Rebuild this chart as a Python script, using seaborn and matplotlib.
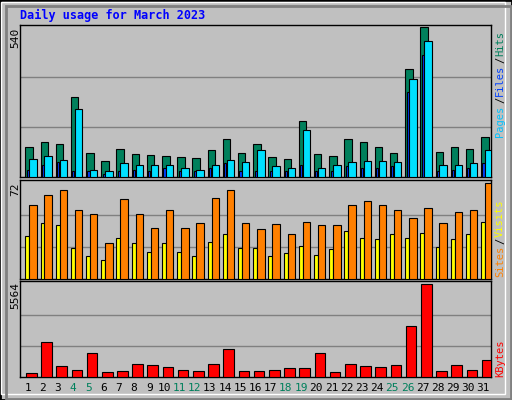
import numpy as np
import pandas as pd
import matplotlib
matplotlib.use('Agg')
import matplotlib.pyplot as plt
import seaborn as sns
from matplotlib.patches import Rectangle

# datos diarios
dias = list(range(1, 32))
fines_semana = [4, 5, 11, 12, 18, 19, 25, 26]
hits = [107, 126, 119, 287, 86, 56, 100, 82, 78, 75, 71, 67, 97, 137, 86, 119,
        71, 64, 203, 82, 75, 137, 126, 108, 86, 390, 540, 89, 108, 100, 144]
files = [64, 75, 60, 247, 27, 23, 49, 45, 42, 42, 31, 27, 42, 60, 53, 97,
         38, 31, 170, 31, 42, 53, 56, 56, 53, 353, 492, 42, 45, 49, 97]
pages = [27, 42, 53, 23, 20, 12, 23, 27, 23, 34, 20, 23, 34, 49, 23, 23,
         20, 20, 42, 20, 20, 38, 31, 34, 38, 306, 441, 20, 27, 31, 49]
visits = [55.6, 62.6, 66.5, 52, 48.5, 27, 60, 49, 38, 52, 38, 42, 61, 66.5, 42, 37.6,
          41.5, 33.7, 43, 40.7, 40.7, 55.6, 58.7, 55.6, 51.7, 45.4, 53, 42, 50, 52, 72]
sites = [32, 42, 40.7, 23.5, 17, 14, 31, 26.6, 20, 26.6, 20, 17, 28, 33.7, 23.5, 23.5,
         17, 19.6, 25, 18, 22.7, 36, 30.5, 29.7, 33.7, 30.5, 34.4, 24.3, 29.7, 33.7, 43]
kbytes = [264, 2092, 630, 447, 1422, 325, 386, 751, 690, 569, 447, 386, 751, 1665, 386, 386,
          447, 508, 508, 1422, 325, 751, 630, 569, 690, 3067, 5564, 386, 690, 447, 995]

df = pd.DataFrame({'dia': dias, 'hits': hits, 'files': files, 'pages': pages,
                   'visits': visits, 'sites': sites, 'kbytes': kbytes})
df['x'] = df['dia'] - 1

sns.set_style('white')
plt.rcParams['font.family'] = ['DejaVu Sans Mono']

W, H = 512, 400
fig = plt.figure(figsize=(W / 100, H / 100), dpi=100)
fig.patch.set_facecolor('#c0c0c0')

# bisel del marco
fig.add_artist(Rectangle((0, 0), 1, 1, transform=fig.transFigure, fill=False, ec='black', lw=2))
fig.add_artist(Rectangle((1 / W, 6 / H), (W - 8) / W, (H - 8) / H, transform=fig.transFigure,
                         fill=False, ec='white', lw=1))
fig.add_artist(Rectangle((6 / W, 1 / H), (W - 7) / W, (H - 7) / H, transform=fig.transFigure,
                         fill=False, ec='#808080', lw=2))


def panel(y0, y1):
    ax = fig.add_axes([20 / W, 1 - y1 / H, 471 / W, (y1 - y0) / H])
    ax.set_facecolor('#c0c0c0')
    for s in ax.spines.values():
        s.set_color('black')
        s.set_linewidth(1)
    ax.set_xlim(0, 31)
    ax.set_xticks([])
    ax.set_yticks([])
    return ax


def barras(ax, col, off, w, color):
    ax.bar(df['x'] + off, df[col], width=w, align='edge', color=color,
           edgecolor='black', linewidth=0.8, zorder=3)


ax1 = panel(25, 177)
ax1.set_ylim(0, 540 * 1.015)
for g in (180, 360):
    ax1.axhline(g, color='#808080', lw=1, zorder=1)
barras(ax1, 'hits', 0.35, 0.49, '#00805c')
barras(ax1, 'pages', 0.44, 0.14, '#0040ff')
barras(ax1, 'files', 0.61, 0.49, '#00e0ff')

ax2 = panel(180, 279)
ax2.set_ylim(0, 72 * 1.03)
for g in (24, 48):
    ax2.axhline(g, color='#808080', lw=1, zorder=1)
barras(ax2, 'sites', 0.35, 0.26, '#ffff00')
barras(ax2, 'visits', 0.61, 0.49, '#ff8000')

ax3 = panel(281, 377)
ax3.set_ylim(0, 5564 * 1.03)
for g in (5564 / 3, 5564 * 2 / 3):
    ax3.axhline(g, color='#808080', lw=1, zorder=1)
barras(ax3, 'kbytes', 0.39, 0.7, '#ff0000')


def txt(x, y, s, color, rot=0, size=8, ha='left', va='top', weight='normal'):
    fig.text(x / W, 1 - y / H, s, color=color, rotation=rot, fontsize=size,
             ha=ha, va=va, fontweight=weight)


txt(20, 9, 'Daily usage for March 2023', '#0000ff', size=8.5, weight='bold')
txt(15, 28, '540', 'black', rot=90, ha='center', va='top')
txt(15, 183, '72', 'black', rot=90, ha='center', va='top')
txt(15, 282, '5564', 'black', rot=90, ha='center', va='top')

# leyendas verticales
ls = 7.5
txt(500, 137, 'Pages', '#00c0ff', rot=90, ha='center', va='bottom', size=ls)
txt(500, 103, '/', 'black', rot=90, ha='center', va='bottom', size=ls)
txt(500, 96, 'Files', '#0040ff', rot=90, ha='center', va='bottom', size=ls)
txt(500, 63, '/', 'black', rot=90, ha='center', va='bottom', size=ls)
txt(500, 56, 'Hits', '#00805c', rot=90, ha='center', va='bottom', size=ls)
txt(500, 277, 'Sites', '#ff8000', rot=90, ha='center', va='bottom', size=ls)
txt(500, 244, '/', 'black', rot=90, ha='center', va='bottom', size=ls)
txt(500, 237, 'Visits', '#ffff00', rot=90, ha='center', va='bottom', size=ls)
txt(500, 377, 'KBytes', '#ff0000', rot=90, ha='center', va='bottom', size=ls)

for d in dias:
    c = '#00805c' if d in fines_semana else 'black'
    txt(20 + (d - 0.5) * 471 / 31, 383, str(d), c, ha='center', va='top')

fig.savefig('out.png', dpi=100, facecolor=fig.get_facecolor())
